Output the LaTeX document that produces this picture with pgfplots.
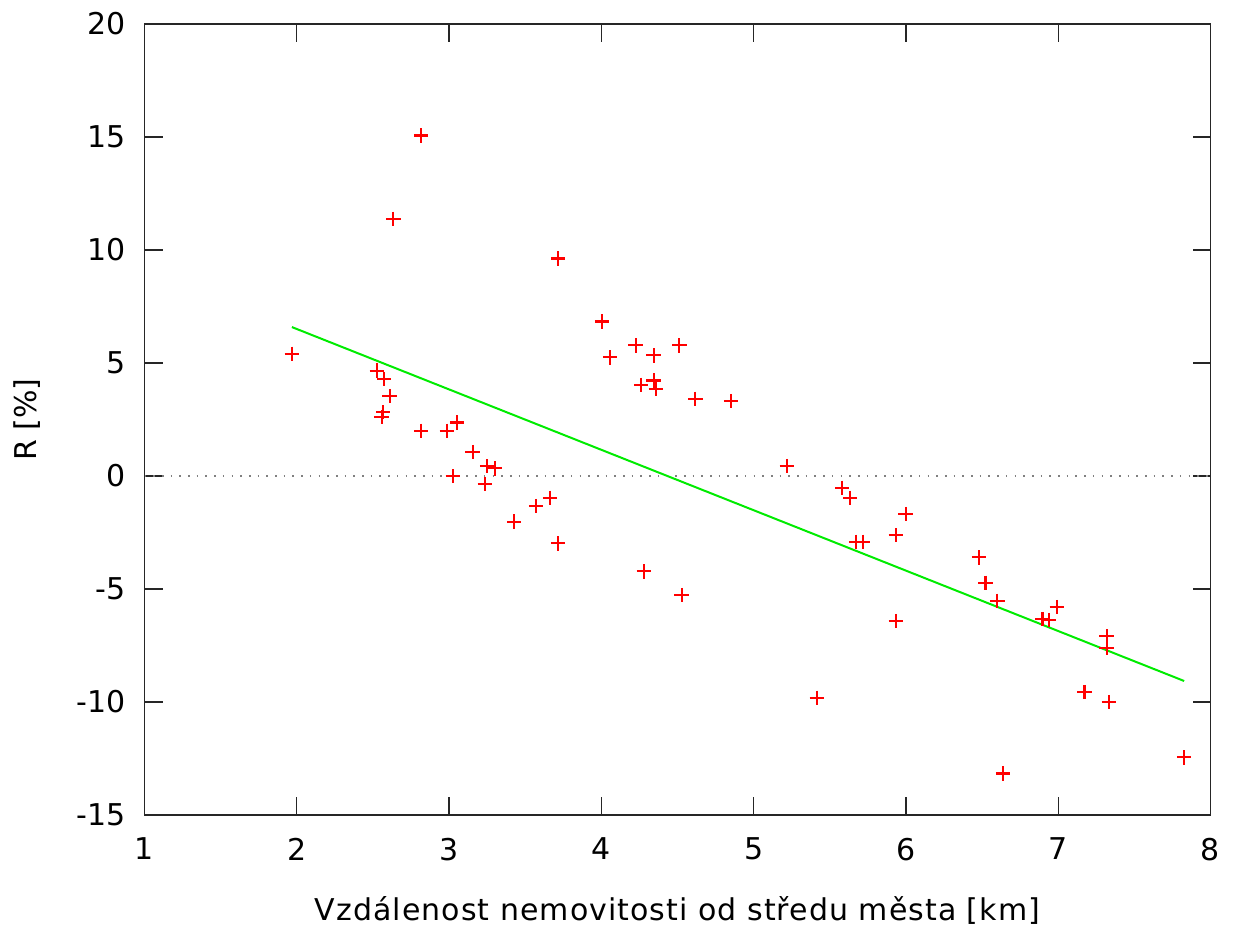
\documentclass[border=0pt]{standalone}
\usepackage{fontspec}
\setmainfont{DejaVu Sans}
\newfontfamily\xlabelfont{DejaVu Sans}[LetterSpace=3.5]
\usepackage{pgfplots}
\pgfplotsset{compat=1.18}

% distance [km] vs. R [%]
\pgfplotstableread{
x      y
1.968  5.41
2.525  4.66
2.573  4.28
2.610  3.54
2.568  2.82
2.557  2.62
2.634  11.38
2.817  15.07
2.817  2.00
2.986  2.00
3.052  2.37
3.024  -0.01
3.155  1.06
3.249  0.43
3.300  0.34
3.234  -0.35
3.428  -2.02
3.571  -1.33
3.663  -0.96
3.717  -2.98
3.717  9.62
4.004  6.84
4.057  5.25
4.225  5.78
4.343  5.34
4.512  5.78
4.262  4.03
4.343  4.23
4.358  3.84
4.617  3.41
4.851  3.32
4.278  -4.22
4.527  -5.27
5.217  0.44
5.414  -9.81
5.582  -0.52
5.634  -0.97
5.672  -2.91
5.716  -2.91
5.934  -2.62
5.998  -1.68
5.934  -6.42
6.481  -3.60
6.523  -4.73
6.600  -5.52
6.638  -13.16
6.897  -6.33
6.937  -6.37
6.991  -5.80
7.173  -9.56
7.318  -7.09
7.318  -7.60
7.333  -10.00
7.827  -12.45
}\data

\begin{document}
\begin{tikzpicture}[font=\fontsize{15}{18}\selectfont]
\begin{axis}[
  scale only axis,
  width=533pt, height=395.5pt,
  xmin=1, xmax=8, ymin=-15, ymax=20,
  xtick={1,2,3,4,5,6,7,8},
  ytick={-15,-10,-5,0,5,10,15,20},
  xticklabels={1,2,3,4,5,6,7,8},
  yticklabels={-15,-10,-5,0,5,10,15,20},
  tick align=inside,
  major tick length=9pt,
  axis line style={line width=0.7pt, black!85},
  every tick/.style={line width=0.7pt, black!85},
  xticklabel style={yshift=-8pt},
  yticklabel style={xshift=-6pt},
  xlabel={\xlabelfont Vzdálenost nemovitosti od středu města [km]},
  ylabel={R [\%]},
  xlabel style={at={(axis description cs:0.5,0)}, anchor=base, yshift=-52.5pt},
  ylabel style={at={(axis description cs:0,0.5)}, anchor=base, yshift=53.75pt},
  clip=false,
]
\addplot[gray, line width=0.6pt, dash pattern=on 0.8pt off 3.55pt] coordinates {(1,0) (8,0)};
\addplot[only marks, mark=+, mark size=3.6pt, red, line width=1.1pt] table[x=x, y=y] {\data};
\addplot[color={rgb,255:red,0;green,235;blue,0}, line width=1pt] coordinates {(1.968,6.59) (7.827,-9.07)};
\end{axis}
\pgfresetboundingbox
\path ([shift={(-72.25pt,-55.5pt)}]current axis.south west) rectangle ([shift={(11.75pt,12pt)}]current axis.north east);
\end{tikzpicture}
\end{document}
